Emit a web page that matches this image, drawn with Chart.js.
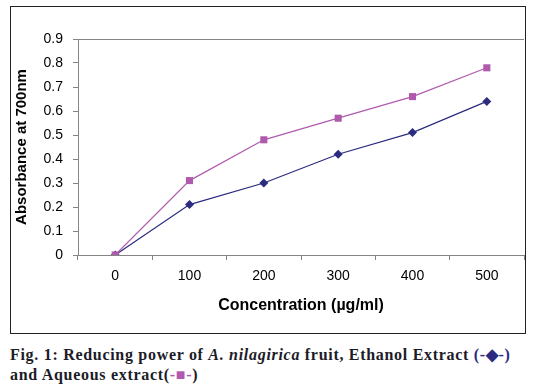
<!DOCTYPE html>
<html>
<head>
<meta charset="utf-8">
<script src="https://cdn.jsdelivr.net/npm/chart.js@4"></script>
<style>
  html, body { margin: 0; padding: 0; background: #fff; width: 533px; height: 392px; overflow: hidden; }
  #frame { position: absolute; left: 10px; top: 6px; width: 516px; height: 328px; box-sizing: border-box; border: 1px solid #222; overflow: hidden; }
  #c { position: absolute; left: 0; top: 0; }
  #caption { position: absolute; left: 10px; top: 345px; width: 523px; font-family: "Liberation Serif", serif; font-weight: bold; font-size: 16px; letter-spacing: 0.7px; line-height: 20px; color: #1c1c28; white-space: nowrap; }
  .nv { color: #2b2b80; }
  .mg { color: #b05aae; }
</style>
</head>
<body>
<div id="frame"><canvas id="c" width="518" height="326" style="width:518px;height:326px"></canvas></div>
<div id="caption">Fig. 1: Reducing power of <i>A. nilagirica</i> fruit, Ethanol Extract <span class="nv">(-◆-)</span><br>and Aqueous extract(<span class="mg">-■-</span>)</div>
<script>
const categories = ['0', '100', '200', '300', '400', '500'];
const ethanol = [0, 0.21, 0.30, 0.42, 0.51, 0.64];
const aqueous = [0, 0.31, 0.48, 0.57, 0.66, 0.78];
const yTicks = [0, 0.1, 0.2, 0.3, 0.4, 0.5, 0.6, 0.7, 0.8, 0.9];

const navy = '#2b2b80';
const magenta = '#b05aae';
const axisGrey = '#858585';

new Chart(document.getElementById('c'), {
  type: 'line',
  data: {
    labels: categories,
    datasets: [
      {
        label: 'Aqueous extract',
        data: aqueous,
        borderColor: magenta,
        backgroundColor: magenta,
        borderWidth: 1.2,
        pointStyle: 'rect',
        pointRadius: 5,
        pointBorderWidth: 0,
        fill: false,
        tension: 0,
        order: 0
      },
      {
        label: 'Ethanol Extract',
        data: ethanol,
        borderColor: navy,
        backgroundColor: navy,
        borderWidth: 1.2,
        pointStyle: 'rectRot',
        pointRadius: 4.5,
        pointBorderWidth: 0,
        fill: false,
        tension: 0,
        order: 1
      }
    ]
  },
  options: {
    responsive: false,
    animation: false,
    devicePixelRatio: 1,
    maintainAspectRatio: false,
    layout: { padding: { top: 32, left: 0, right: 0, bottom: 0 } },
    plugins: { legend: { display: false }, tooltip: { enabled: false } },
    scales: {
      x: {
        type: 'category',
        offset: true,
        afterFit: s => { s.height = 78; },
        grid: {
          offset: true,
          drawOnChartArea: false,
          tickLength: 5,
          tickColor: axisGrey,
          color: axisGrey
        },
        border: { display: true, color: axisGrey, width: 1 },
        ticks: {
          color: '#000',
          padding: 8,
          maxRotation: 0,
          font: { family: '"Liberation Sans", Arial, sans-serif', size: 14 }
        },
        title: {
          display: true,
          text: 'Concentration (µg/ml)',
          color: '#000',
          padding: { top: 0, bottom: 18 },
          font: { family: '"Liberation Sans", Arial, sans-serif', size: 16, weight: 'bold' }
        }
      },
      y: {
        min: 0,
        max: 0.9,
        afterFit: s => { s.width = 67; },
        afterBuildTicks: s => { s.ticks = yTicks.map(v => ({ value: v })); },
        grid: {
          drawOnChartArea: true,
          tickLength: 5,
          tickColor: axisGrey,
          color: ctx => (ctx.tick && Math.abs(ctx.tick.value - 0.9) < 1e-9) ? axisGrey : 'rgba(0,0,0,0)'
        },
        border: { display: true, color: axisGrey, width: 1 },
        ticks: {
          color: '#000',
          padding: 10,
          font: { family: '"Liberation Sans", Arial, sans-serif', size: 14 },
          callback: v => String(+(+v).toFixed(1))
        },
        title: {
          display: true,
          text: 'Absorbance at 700nm',
          color: '#000',
          padding: { top: 2, bottom: 0 },
          font: { family: '"Liberation Sans", Arial, sans-serif', size: 15, weight: 'bold' }
        }
      }
    }
  }
});
</script>
</body>
</html>
